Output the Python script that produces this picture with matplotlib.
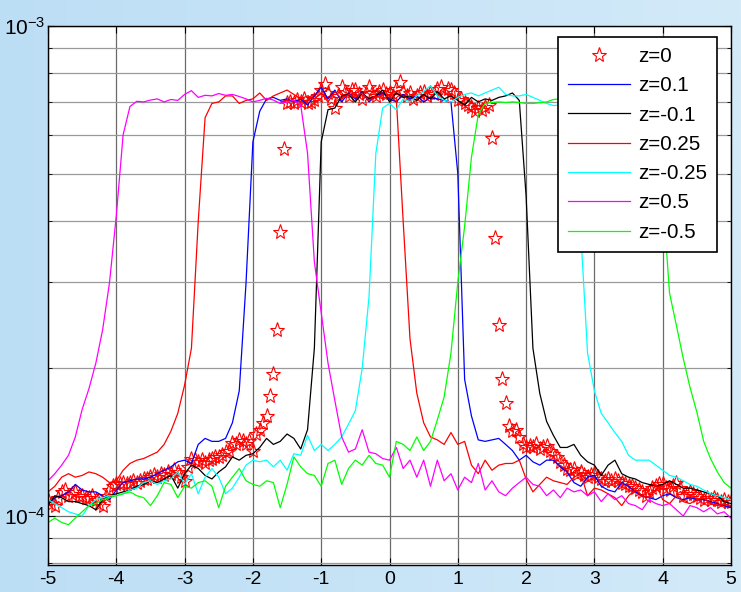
import numpy as np
import matplotlib.pyplot as plt
from matplotlib.colors import LinearSegmentedColormap

plt.rcParams['font.family'] = ['Liberation Sans', 'DejaVu Sans']
plt.rcParams['axes.unicode_minus'] = False
plt.rcParams['mathtext.fontset'] = 'custom'
plt.rcParams['mathtext.rm'] = 'Liberation Sans'
plt.rcParams['mathtext.it'] = 'Liberation Sans:italic'

# intensity profiles, in units of 1e-4
x_line = np.linspace(-5, 5, 101)   # step 0.1
x_star = np.linspace(-5, 5, 201)   # step 0.05

z_0 = [
    1.08, 1.06, 1.05, 1.09, 1.12, 1.13, 1.10, 1.11, 1.12, 1.10,
    1.10, 1.09, 1.09, 1.10, 1.08, 1.06, 1.05, 1.10, 1.13, 1.15,
    1.16, 1.16, 1.17, 1.16, 1.17, 1.18, 1.17, 1.18, 1.19, 1.19,
    1.20, 1.21, 1.20, 1.22, 1.21, 1.23, 1.22, 1.24, 1.23, 1.20,
    1.18, 1.26, 1.31, 1.30, 1.29, 1.30, 1.28, 1.30, 1.31, 1.32,
    1.32, 1.33, 1.35, 1.36, 1.41, 1.40, 1.43, 1.42, 1.40, 1.42,
    1.36, 1.47, 1.50, 1.55, 1.60, 1.76, 1.95, 2.40, 3.80, 5.60,
    6.95, 7.00, 6.95, 7.05, 7.00, 7.10, 6.95, 7.00, 7.05, 7.20,
    7.40, 7.60, 7.30, 7.10, 6.80, 7.20, 7.50, 7.35, 7.20, 7.40,
    7.40, 7.25, 7.10, 7.30, 7.50, 7.30, 7.20, 7.35, 7.40, 7.25,
    7.30, 7.20, 7.45, 7.70, 7.35, 7.20, 7.30, 7.10, 7.20, 7.30,
    7.35, 7.20, 7.30, 7.25, 7.45, 7.50, 7.20, 7.45, 7.40, 7.30,
    7.06, 7.10, 6.95, 6.90, 6.85, 6.70, 6.80, 6.75, 6.85, 6.90,
    5.90, 3.70, 2.45, 1.90, 1.70, 1.53, 1.49, 1.50, 1.45, 1.40,
    1.38, 1.39, 1.38, 1.40, 1.37, 1.38, 1.39, 1.36, 1.34, 1.32,
    1.29, 1.27, 1.25, 1.24, 1.25, 1.22, 1.23, 1.21, 1.20, 1.21,
    1.22, 1.20, 1.19, 1.18, 1.19, 1.18, 1.19, 1.18, 1.17, 1.16,
    1.15, 1.15, 1.14, 1.13, 1.12, 1.10, 1.12, 1.14, 1.15, 1.16,
    1.16, 1.14, 1.13, 1.15, 1.17, 1.14, 1.10, 1.11, 1.12, 1.11,
    1.10, 1.09, 1.08, 1.09, 1.08, 1.09, 1.08, 1.07, 1.08, 1.07,
    1.07,
]

z_p01 = [
    1.06, 1.09, 1.10, 1.12, 1.16, 1.13, 1.12, 1.12, 1.10, 1.08,
    1.13, 1.17, 1.18, 1.19, 1.19, 1.20, 1.22, 1.24, 1.26, 1.29,
    1.30, 1.28, 1.40, 1.44, 1.42, 1.42, 1.44, 1.55, 1.80, 3.00,
    5.80, 6.70, 7.10, 7.15, 7.05, 7.10, 7.00, 7.10, 6.90, 7.20,
    7.50, 7.10, 7.40, 7.00, 7.30, 7.10, 7.35, 7.00, 7.20, 7.30,
    7.10, 7.00, 7.25, 7.10, 7.20, 7.00, 7.15, 7.10, 7.05, 7.00,
    5.00, 1.90, 1.60, 1.43, 1.42, 1.43, 1.44, 1.40, 1.36, 1.30,
    1.33, 1.29, 1.27, 1.30, 1.30, 1.26, 1.23, 1.17, 1.15, 1.20,
    1.21, 1.15, 1.13, 1.12, 1.17, 1.15, 1.12, 1.10, 1.09, 1.08,
    1.10, 1.11, 1.09, 1.08, 1.09, 1.08, 1.08, 1.07, 1.06, 1.05,
    1.04,
]

z_m01 = [
    1.05, 1.10, 1.09, 1.07, 1.07, 1.06, 1.05, 1.03, 1.08, 1.10,
    1.11, 1.12, 1.13, 1.15, 1.16, 1.18, 1.17, 1.19, 1.21, 1.14,
    1.22, 1.27, 1.25, 1.21, 1.19, 1.23, 1.26, 1.32, 1.30, 1.33,
    1.34, 1.38, 1.44, 1.40, 1.42, 1.47, 1.44, 1.37, 1.50, 2.20,
    5.80, 6.75, 6.80, 7.20, 7.25, 7.00, 7.30, 7.10, 7.20, 7.40,
    7.00, 7.30, 7.15, 7.20, 7.05, 7.25, 7.10, 7.35, 7.10, 7.20,
    7.05, 6.90, 7.15, 7.00, 7.10, 7.05, 7.15, 7.20, 7.30, 7.05,
    4.50, 2.20, 1.78, 1.56, 1.46, 1.38, 1.38, 1.40, 1.33, 1.29,
    1.27, 1.21, 1.27, 1.30, 1.22, 1.20, 1.19, 1.17, 1.16, 1.15,
    1.16, 1.18, 1.16, 1.14, 1.14, 1.13, 1.12, 1.11, 1.10, 1.07,
    1.06,
]

z_p025 = [
    1.12, 1.15, 1.20, 1.22, 1.20, 1.21, 1.23, 1.22, 1.20, 1.17,
    1.18, 1.24, 1.28, 1.30, 1.31, 1.33, 1.35, 1.40, 1.49, 1.62,
    1.85, 2.20, 4.00, 6.50, 6.95, 7.00, 7.20, 7.20, 6.95, 7.05,
    7.10, 7.30, 7.05, 7.20, 7.30, 7.40, 7.25, 7.10, 7.20, 7.10,
    7.30, 7.00, 7.35, 7.10, 7.25, 7.15, 7.30, 7.05, 7.20, 7.10,
    7.25, 7.10, 4.00, 2.30, 1.78, 1.55, 1.45, 1.43, 1.40, 1.48,
    1.40, 1.42, 1.27, 1.22, 1.30, 1.24, 1.27, 1.28, 1.28, 1.30,
    1.19, 1.12, 1.16, 1.20, 1.18, 1.17, 1.16, 1.20, 1.22, 1.10,
    1.14, 1.13, 1.11, 1.09, 1.05, 1.10, 1.13, 1.10, 1.09, 1.16,
    1.08, 1.06, 1.10, 1.07, 1.06, 1.08, 1.09, 1.06, 1.05, 1.06,
    1.05,
]

z_m025 = [
    1.08, 1.06, 1.04, 1.02, 1.01, 1.00, 1.05, 1.08, 1.09, 1.10,
    1.10, 1.11, 1.13, 1.14, 1.17, 1.18, 1.16, 1.18, 1.19, 1.23,
    1.16, 1.22, 1.11, 1.20, 1.25, 1.20, 1.11, 1.14, 1.20, 1.27,
    1.30, 1.29, 1.30, 1.26, 1.30, 1.24, 1.34, 1.33, 1.46, 1.36,
    1.40, 1.36, 1.40, 1.45, 1.54, 1.64, 2.00, 2.80, 5.50, 6.80,
    6.95, 6.75, 7.10, 7.00, 7.20, 7.35, 7.55, 7.20, 7.05, 7.00,
    7.15, 7.25, 7.30, 7.20, 7.30, 7.40, 7.50, 7.25, 7.20, 7.20,
    7.25, 7.15, 7.05, 6.95, 6.88, 6.90, 6.95, 6.70, 3.80, 2.15,
    1.80, 1.62, 1.55, 1.48, 1.42, 1.33, 1.30, 1.30, 1.30, 1.27,
    1.24, 1.21, 1.20, 1.18, 1.16, 1.15, 1.13, 1.11, 1.10, 1.09,
    1.08,
]

z_p05 = [
    1.18, 1.22, 1.27, 1.33, 1.45, 1.65, 1.82, 2.05, 2.40, 2.99,
    4.10, 6.00, 6.85, 7.02, 7.00, 7.06, 7.10, 7.00, 7.08, 7.05,
    7.25, 7.38, 7.15, 7.22, 7.20, 7.28, 7.22, 7.25, 7.18, 7.10,
    7.00, 7.05, 7.12, 7.06, 6.95, 7.00, 7.05, 6.90, 5.50, 3.30,
    2.60, 2.05, 1.72, 1.45, 1.35, 1.37, 1.50, 1.35, 1.34, 1.31,
    1.30, 1.38, 1.25, 1.30, 1.20, 1.30, 1.15, 1.30, 1.18, 1.22,
    1.13, 1.20, 1.17, 1.28, 1.13, 1.18, 1.12, 1.10, 1.14, 1.17,
    1.20, 1.16, 1.15, 1.10, 1.13, 1.09, 1.14, 1.12, 1.13, 1.10,
    1.12, 1.07, 1.11, 1.08, 1.10, 1.06, 1.05, 1.03, 1.08, 1.06,
    1.05, 1.06, 1.03, 1.00, 1.05, 1.04, 1.02, 1.04, 1.01, 1.02,
    0.99,
]

z_m05 = [
    0.97, 0.99, 0.97, 0.96, 0.99, 1.02, 1.05, 1.06, 1.08, 1.09,
    1.10, 1.11, 1.12, 1.10, 1.09, 1.05, 1.10, 1.17, 1.16, 1.09,
    1.15, 1.14, 1.17, 1.18, 1.15, 1.04, 1.15, 1.20, 1.25, 1.18,
    1.16, 1.15, 1.18, 1.17, 1.04, 1.16, 1.32, 1.26, 1.22, 1.21,
    1.15, 1.28, 1.30, 1.16, 1.25, 1.30, 1.27, 1.33, 1.28, 1.27,
    1.20, 1.42, 1.40, 1.36, 1.45, 1.36, 1.42, 1.57, 1.75, 2.15,
    3.00, 3.90, 5.40, 6.60, 6.95, 6.98, 7.00, 6.98, 7.00, 6.98,
    6.95, 6.95, 6.97, 7.00, 7.08, 7.10, 7.05, 7.10, 7.15, 7.05,
    7.10, 7.12, 7.05, 7.00, 7.06, 7.10, 7.00, 6.98, 6.95, 6.70,
    4.50, 2.85, 2.45, 2.10, 1.83, 1.63, 1.42, 1.31, 1.23, 1.17,
    1.14,
]

curves = [
    ('z=0.1', z_p01, '#0000ff'),
    ('z=-0.1', z_m01, '#000000'),
    ('z=0.25', z_p025, '#ff0000'),
    ('z=-0.25', z_m025, '#00ffff'),
    ('z=0.5', z_p05, '#ff00ff'),
    ('z=-0.5', z_m05, '#00ff00'),
]

fig = plt.figure(figsize=(7.41, 5.92), dpi=100)

# light blue backdrop behind the axes
bg = fig.add_axes([0, 0, 1, 1], zorder=-10)
grad = np.linspace(0, 1, 256).reshape(1, -1)
bg_cmap = LinearSegmentedColormap.from_list('bg', ['#bcdef5', '#d3eaf9'])
bg.imshow(grad, aspect='auto', cmap=bg_cmap, extent=[0, 1, 0, 1])
bg.set_axis_off()

ax = fig.add_axes([48 / 741, 1 - 565 / 592, 683 / 741, 539 / 592])
ax.set_facecolor('white')

ax.plot(x_star, np.array(z_0) * 1e-4, linestyle='none', marker='*',
        markersize=11, markerfacecolor='none', markeredgecolor='#ff0000',
        markeredgewidth=0.8, label='z=0')
for name, vals, col in curves:
    ax.plot(x_line, np.array(vals) * 1e-4, color=col, lw=0.9, label=name)

ax.set_yscale('log')
ax.set_xlim(-5, 5)
ax.set_ylim(10 ** -4.1, 1e-3)
ax.set_xticks(np.arange(-5, 6, 1))

ax.grid(True, which='major', color='#6a6a6a', lw=0.9)
ax.grid(True, which='minor', axis='y', color='#9a9a9a', lw=0.9)
ax.set_axisbelow(True)

ax.tick_params(which='both', direction='in', top=True, right=True)
ax.tick_params(axis='x', labelsize=14, pad=4)
ax.tick_params(axis='y', labelsize=15, pad=2)
ax.tick_params(which='major', length=5)
ax.tick_params(which='minor', length=3)
ax.yaxis.set_minor_formatter(plt.NullFormatter())
for sp in ax.spines.values():
    sp.set_color('black')
    sp.set_linewidth(1.0)

leg = ax.legend(loc='upper right', bbox_to_anchor=(0.98, 0.98),
                borderaxespad=0, fontsize=14.8, numpoints=1,
                handlelength=3.0, handletextpad=0.4, labelspacing=0.5,
                borderpad=0.5, fancybox=False, framealpha=1)
leg.get_frame().set_edgecolor('black')
leg.get_frame().set_linewidth(1.2)

fig.savefig('out.png', dpi=100)
